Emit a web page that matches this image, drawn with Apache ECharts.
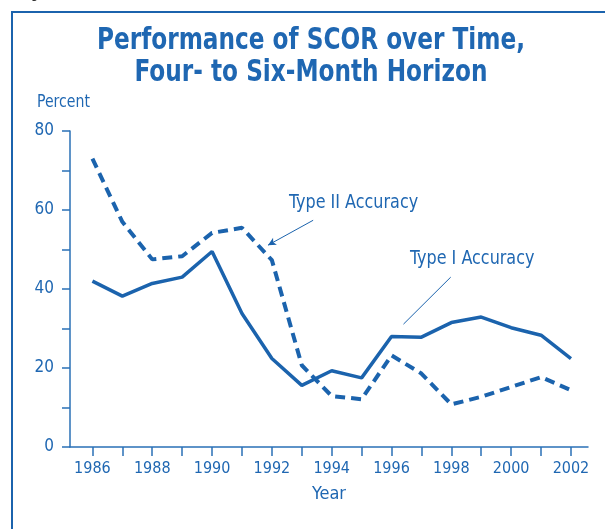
<!DOCTYPE html>
<html>
<head>
<meta charset="utf-8">
<script src="https://cdn.jsdelivr.net/npm/echarts@6/dist/echarts.min.js"></script>
<style>
  html, body { margin: 0; padding: 0; background: #fff; }
  #chart { width: 605px; height: 529px; }
</style>
</head>
<body>
<div id="chart"></div>
<script>
// data
var years = [1986, 1987, 1988, 1989, 1990, 1991, 1992, 1993, 1994, 1995, 1996, 1997, 1998, 1999, 2000, 2001, 2002];
var yearLabels = [1986, 1988, 1990, 1992, 1994, 1996, 1998, 2000, 2002];
var typeI = [42.0, 38.2, 41.4, 43.0, 49.5, 33.8, 22.4, 15.6, 19.3, 17.5, 28.0, 27.8, 31.5, 32.9, 30.2, 28.3, 22.4];
var typeII = [73.0, 57.0, 47.5, 48.3, 54.2, 55.5, 47.3, 20.7, 12.9, 12.1, 23.2, 18.6, 10.8, 12.7, 15.2, 17.7, 14.4];

var blue = '#1b63ad';
var textBlue = '#1f67b2';
var font = "'DejaVu Sans Condensed', 'Liberation Sans Narrow', sans-serif";

function pairs(vals) {
	var out = [];
	for (var i = 0; i < years.length; i++) {
		out.push([years[i], vals[i]]);
	}
	return out;
}

// narrow text, squeezed a bit to look like the condensed face of the original
function label(txt, x, y, size, weight, sx, align) {
	return {
		type: 'text',
		x: x,
		y: y,
		scaleX: sx,
		style: {
			text: txt,
			fill: textBlue,
			font: weight + ' ' + size + 'px ' + font,
			textAlign: align || 'left',
			textVerticalAlign: 'middle'
		}
	};
}

var myChart = echarts.init(document.getElementById('chart'));

var option = {
	backgroundColor: '#fff',
	animation: false,
	grid: {
		left: 70,
		right: 17,
		top: 131,
		bottom: 82
	},
	xAxis: {
		type: 'value',
		min: 1985.25,
		max: 2002.57,
		name: 'Year',
		nameLocation: 'middle',
		nameGap: 38,
		nameTextStyle: { color: textBlue, fontFamily: font, fontSize: 18 },
		splitLine: { show: false },
		axisLine: { lineStyle: { color: '#2a70b6', width: 1.5 } },
		axisTick: {
			show: true,
			length: 9,
			customValues: years,
			lineStyle: { color: '#2a70b6', width: 1.5 }
		},
		axisLabel: {
			customValues: yearLabels,
			margin: 14,
			color: textBlue,
			fontFamily: font,
			fontSize: 16,
			formatter: function(v) {
				return String(v);
			}
		}
	},
	yAxis: {
		type: 'value',
		min: 0,
		max: 80,
		interval: 10,
		splitLine: { show: false },
		axisLine: { show: true, lineStyle: { color: '#2a70b6', width: 1.5 } },
		axisTick: { show: true, length: 8, lineStyle: { color: '#2a70b6', width: 1.5 } },
		axisLabel: {
			margin: 16,
			color: textBlue,
			fontFamily: font,
			fontSize: 17,
			formatter: function(v) {
				return v % 20 === 0 ? String(v) : '';
			}
		}
	},
	graphic: [
		{
			type: 'rect',
			shape: { x: 12, y: 12, width: 700, height: 600 },
			style: { fill: 'none', stroke: blue, lineWidth: 2 }
		},
		{
			type: 'text',
			left: 22,
			top: -12,
			style: { text: 'Figure', fill: '#333', font: '13px ' + font }
		},
		label('Performance of SCOR over Time,', 311, 41, 30, 'bold', 0.86, 'center'),
		label('Four- to Six-Month Horizon', 311, 73, 30, 'bold', 0.86, 'center'),
		label('Percent', 37, 102, 18, 'normal', 0.87),
		label('Type II Accuracy', 289, 203, 20, 'normal', 0.89),
		label('Type I Accuracy', 410, 259, 20, 'normal', 0.89)
	],
	series: [
		{
			name: 'Type I Accuracy',
			type: 'line',
			data: pairs(typeI),
			showSymbol: false,
			lineStyle: { color: blue, width: 3.5 },
			markLine: {
				silent: true,
				symbol: ['none', 'none'],
				label: { show: false },
				lineStyle: { color: blue, width: 1, type: 'solid' },
				data: [[{ coord: [1997.98, 43.0] }, { coord: [1996.40, 31.1] }]]
			}
		},
		{
			name: 'Type II Accuracy',
			type: 'line',
			data: pairs(typeII),
			showSymbol: false,
			lineStyle: { color: blue, width: 4, type: [10, 6] },
			markLine: {
				silent: true,
				symbol: ['none', 'arrow'],
				symbolSize: [6, 8],
				label: { show: false },
				lineStyle: { color: blue, width: 1, type: 'solid' },
				data: [[{ coord: [1993.38, 57.4] }, { coord: [1991.87, 51.1] }]]
			}
		}
	]
};

myChart.setOption(option);
window.addEventListener('resize', function() {
	myChart.resize();
});
</script>
</body>
</html>
